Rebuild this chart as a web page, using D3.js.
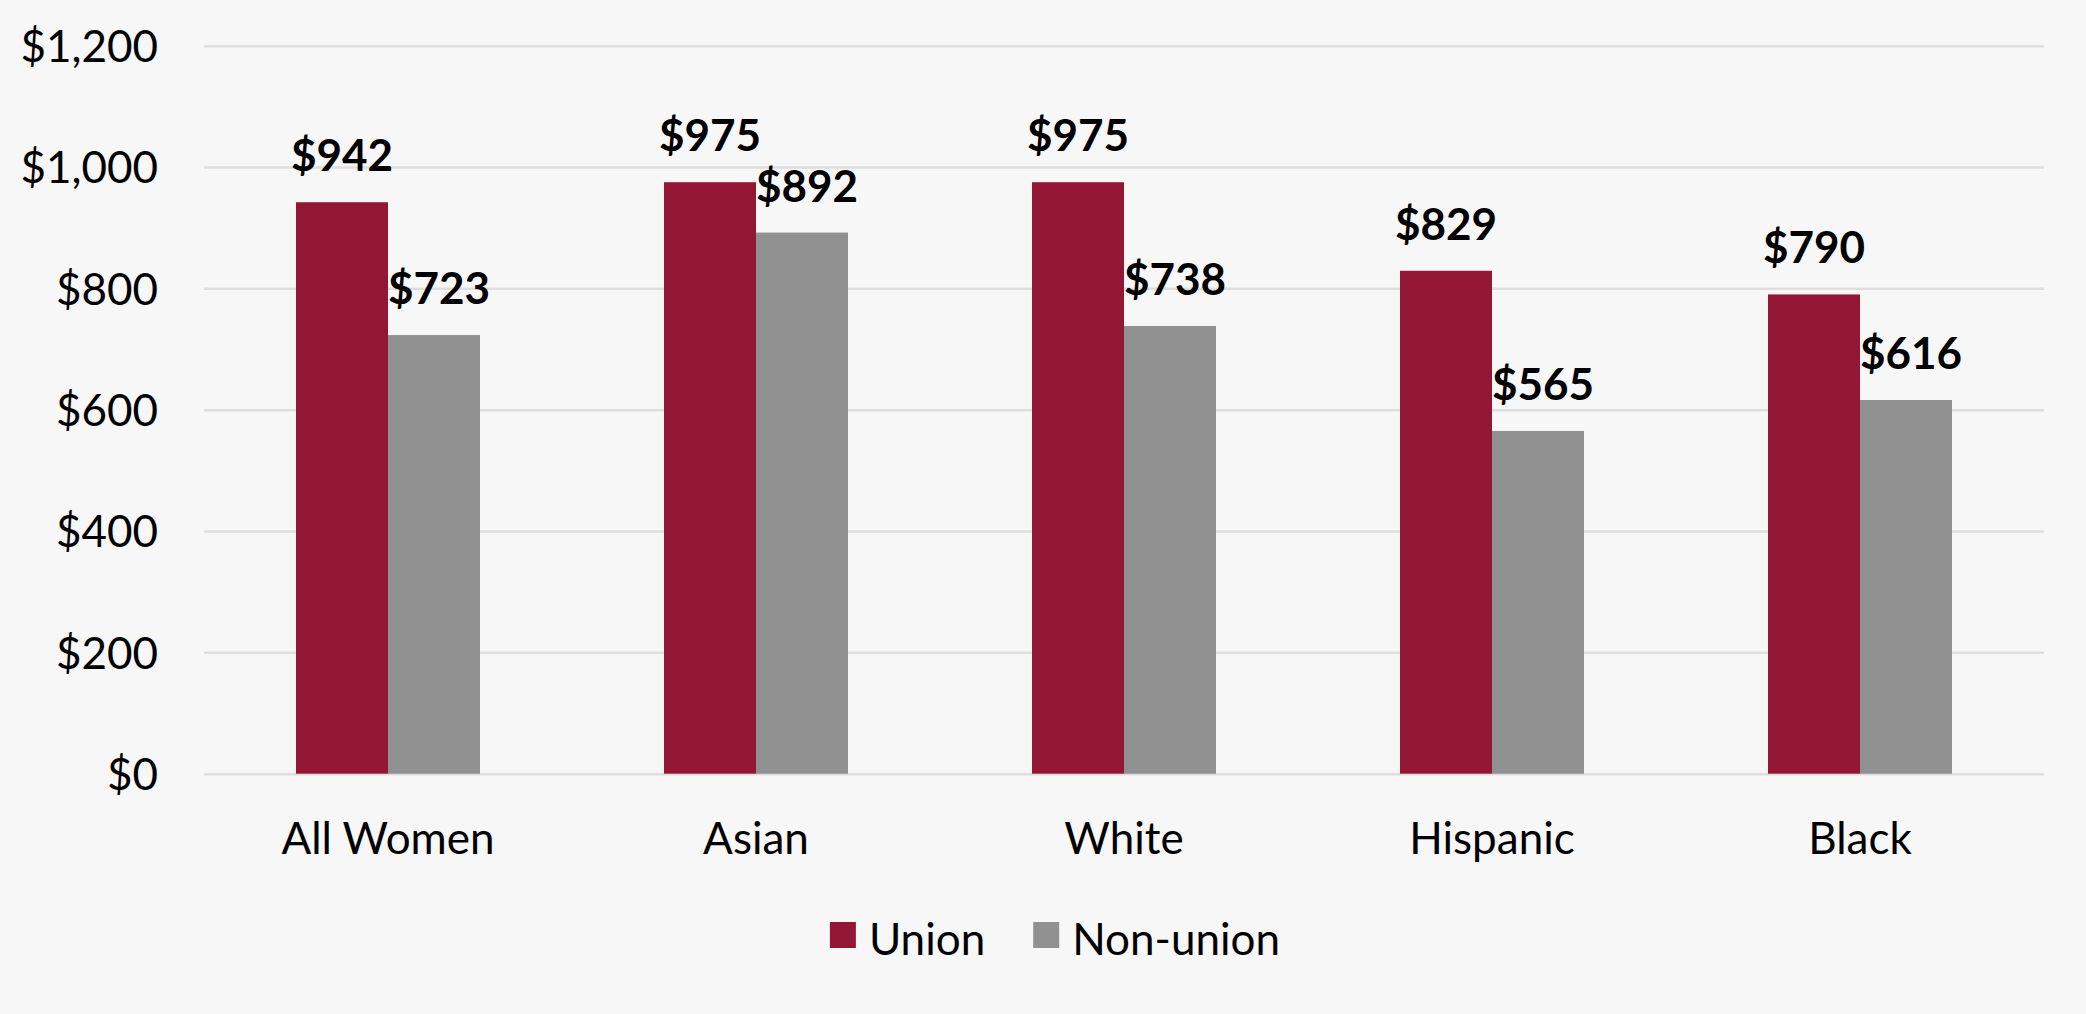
<!DOCTYPE html>
<html>
<head>
<meta charset="utf-8">
<script src="https://cdn.jsdelivr.net/npm/d3@7"></script>
<style>
  html, body { margin: 0; padding: 0; background: #f7f7f7; }
  svg { display: block; }
  text { font-family: Lato, "Open Sans", sans-serif; fill: #000; }
</style>
</head>
<body>
<svg id="chart" width="2086" height="1014"></svg>
<script>
const categories = ["All Women", "Asian", "White", "Hispanic", "Black"];
const seriesNames = ["Union", "Non-union"];
const unionValues = [942, 975, 975, 829, 790];
const nonUnionValues = [723, 892, 738, 565, 616];
const yTicks = [0, 200, 400, 600, 800, 1000, 1200];

const colors = { "Union": "#931735", "Non-union": "#919191" };
const seriesValues = { "Union": unionValues, "Non-union": nonUnionValues };
const labelShift = { "Union": 0, "Non-union": 5 };

const W = 2086, H = 1014;
const margin = { left: 204, right: 42, top: 45.7, bottom: 240.3 };
const svg = d3.select("#chart");
svg.append("rect").attr("width", W).attr("height", H).attr("fill", "#f7f7f7");

const y = d3.scaleLinear().domain([0, 1200]).range([H - margin.bottom, margin.top]);
const x0 = d3.scaleBand().domain(categories)
  .range([margin.left, W - margin.right])
  .paddingInner(0.5).paddingOuter(0.25);
const x1 = d3.scaleBand().domain(seriesNames).range([0, x0.bandwidth()]).padding(0);

const fmt = v => "$" + d3.format(",")(v);

// Gridlines + y labels via axis
const yAxis = d3.axisLeft(y).tickValues(yTicks)
  .tickSize(-(W - margin.left - margin.right))
  .tickFormat(fmt).tickPadding(46);
const gy = svg.append("g").attr("transform", `translate(${margin.left},0)`).call(yAxis);
gy.select(".domain").remove();
gy.selectAll(".tick line").attr("stroke", "#dedede").attr("stroke-width", 2.5);
gy.selectAll(".tick text")
  .attr("font-size", 44).attr("fill", "#000")
  .attr("dy", "0.36em")
  .style("font-family", "Lato, 'Open Sans', sans-serif");

// Bars
const groups = svg.append("g").selectAll("g").data(categories).join("g")
  .attr("transform", d => `translate(${x0(d)},0)`);

groups.selectAll("rect")
  .data((c, i) => seriesNames.map(s => ({ s, v: seriesValues[s][i] })))
  .join("rect")
  .attr("x", d => x1(d.s))
  .attr("width", x1.bandwidth())
  .attr("y", d => y(d.v))
  .attr("height", d => y(0) - y(d.v))
  .attr("fill", d => colors[d.s]);

// Value labels
groups.selectAll("text.val")
  .data((c, i) => seriesNames.map(s => ({ s, v: seriesValues[s][i] })))
  .join("text")
  .attr("class", "val")
  .attr("x", d => x1(d.s) + x1.bandwidth() / 2 + labelShift[d.s])
  .attr("y", d => y(d.v) - 31)
  .attr("text-anchor", "middle")
  .attr("font-size", 44)
  .attr("font-weight", "bold")
  .text(d => fmt(d.v));

// X axis labels
const xAxis = d3.axisBottom(x0).tickSize(0).tickPadding(0);
const gx = svg.append("g").attr("transform", `translate(0,${y(0)})`).call(xAxis);
gx.select(".domain").remove();
gx.selectAll(".tick text")
  .attr("font-size", 44).attr("fill", "#000")
  .attr("y", 80.6).attr("dy", 0)
  .style("font-family", "Lato, 'Open Sans', sans-serif");

// Legend
const legend = svg.append("g");
const sw = 26, gapText = 13, gapItem = 48;
let cx = 0;
seriesNames.forEach(s => {
  const it = legend.append("g").attr("transform", `translate(${cx},0)`);
  it.append("rect").attr("x", 0).attr("y", -33).attr("width", sw).attr("height", sw).attr("fill", colors[s]);
  const t = it.append("text").attr("x", sw + gapText).attr("y", 0).attr("font-size", 44).text(s);
  cx += sw + gapText + t.node().getComputedTextLength() + gapItem;
});
const legW = cx - gapItem;
legend.attr("transform", `translate(${1055 - legW / 2},955)`);
</script>
</body>
</html>
